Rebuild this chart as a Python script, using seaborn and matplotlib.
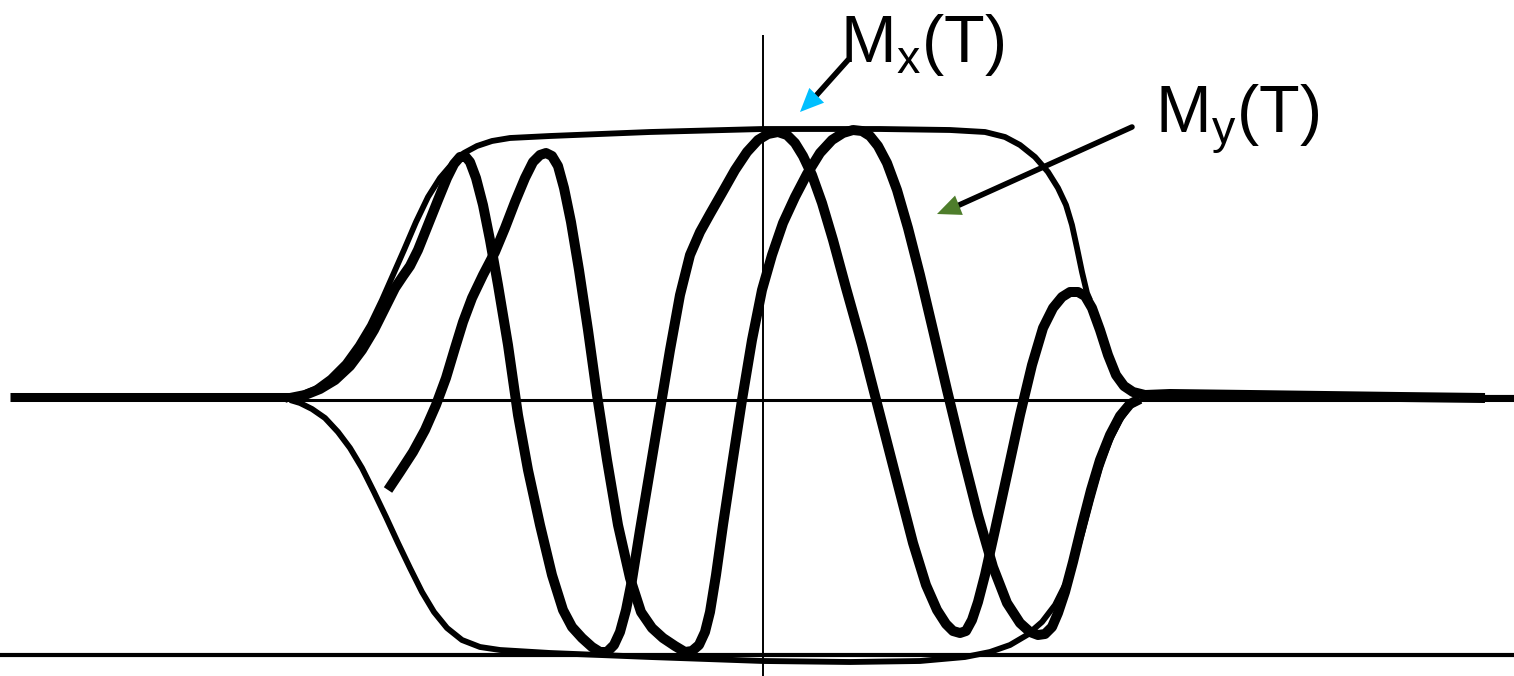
import matplotlib
matplotlib.use("Agg")
import matplotlib.pyplot as plt
import seaborn as sns
import pandas as pd

# Trajectory of the transverse magnetisation during the pulse (pixel-like units,
# y grows downward, baseline at y = 400)
mx_x = [290, 305, 320, 335, 350, 362, 374, 385, 395, 403, 410, 418, 428, 438, 447, 454,
        460, 465, 470, 476, 483, 490, 498, 508, 518, 528, 540, 552, 563, 572, 582, 592,
        600, 607, 614, 620, 626, 632, 640, 650, 660, 670, 680, 690, 700, 710, 722, 735,
        747, 758, 768, 778, 787, 795, 803, 812, 822, 833, 846, 862, 880, 898, 913, 926,
        937, 946, 953, 960, 966, 972, 978, 985, 995, 1007, 1020, 1032, 1043, 1053, 1062,
        1070, 1078, 1085, 1092, 1100, 1108, 1116, 1124, 1133, 1145, 1170, 1250, 1400, 1485]
mx_y = [398, 395, 389, 380, 366, 350, 330, 308, 288, 276, 266, 250, 225, 200, 178, 164,
        157, 156, 162, 178, 205, 240, 285, 345, 415, 470, 525, 575, 610, 627, 638, 647,
        652, 652, 645, 632, 610, 580, 530, 470, 410, 350, 295, 255, 232, 214, 193, 170,
        152, 140, 134, 132, 135, 143, 156, 175, 203, 240, 288, 345, 415, 485, 543, 585,
        610, 624, 631, 633, 631, 620, 602, 575, 530, 475, 415, 365, 328, 308, 297,
        292, 292, 296, 308, 330, 355, 375, 386, 392, 395, 394, 395, 397, 398]

my_x = [388, 400, 413, 425, 436, 446, 455, 463, 472, 483, 495, 505, 515, 525, 533, 540,
        546, 552, 558, 564, 571, 579, 588, 597, 607, 618, 630, 641, 652, 663, 675, 685,
        692, 699, 705, 710, 716, 723, 732, 742, 752, 762, 772, 783, 795, 807, 820, 832,
        843, 853, 862, 870, 878, 887, 897, 908, 920, 933, 947, 962, 978, 993, 1007, 1020,
        1030, 1038, 1045, 1052, 1058, 1065, 1073, 1082, 1091, 1100, 1110, 1120, 1130, 1140]
my_y = [490, 472, 452, 430, 405, 378, 348, 322, 298, 275, 252, 228, 202, 178, 162, 155,
        153, 156, 166, 188, 222, 270, 330, 395, 460, 525, 578, 612, 628, 638, 646, 652,
        651, 645, 632, 612, 575, 525, 465, 400, 340, 290, 255, 223, 197, 174, 153, 140,
        133, 130, 131, 136, 146, 163, 190, 228, 275, 330, 390, 452, 515, 567, 603, 623,
        632, 635, 634, 627, 613, 592, 562, 525, 490, 460, 435, 416, 404, 399]

# Envelope of the magnetisation (upper and lower)
env_top_x = [285, 300, 315, 330, 345, 358, 370, 382, 393, 404, 416, 428, 440, 452, 464,
             477, 492, 510, 550, 650, 763, 880, 950, 985, 1005, 1020, 1035, 1048, 1058,
             1066, 1072, 1077, 1082, 1087, 1090]
env_top_y = [400, 395, 389, 378, 363, 345, 325, 300, 275, 250, 222, 197, 178, 164, 153,
             146, 141, 138, 136, 132, 129, 129, 130, 132, 137, 145, 157, 172, 188,
             205, 225, 248, 272, 293, 300]

env_bot_x = [290, 300, 312, 325, 338, 350, 362, 374, 386, 398, 410, 422, 434, 447, 462,
             480, 500, 550, 650, 763, 850, 920, 965, 990, 1010, 1027, 1042, 1055, 1066,
             1075, 1083, 1091, 1100, 1110, 1120, 1130, 1140]
env_bot_y = [400, 403, 409, 418, 432, 448, 468, 492, 517, 543, 568, 592, 612, 628, 640,
             647, 650, 653, 657, 661, 662, 661, 657, 652, 645, 635, 622, 605, 583,
             558, 530, 500, 468, 440, 420, 406, 400]

# Equilibrium segments before and after the pulse
base_left_x = [10, 290]
base_left_y = [397, 397]
base_right_x = [1485, 1514]
base_right_y = [397, 397]

# Reference axes
haxis_x = [290, 1514]
haxis_y = [400, 400]
vaxis_x = [763, 763]
vaxis_y = [35, 676]
floor_x = [0, 1514]
floor_y = [655, 655]

W, H = 1514, 676
fig = plt.figure(figsize=(W / 100, H / 100), dpi=100)
sns.set_style("white")
plt.rcParams["font.family"] = ["Liberation Sans", "DejaVu Sans"]
plt.rcParams["mathtext.fontset"] = "custom"
plt.rcParams["mathtext.rm"] = "Liberation Sans"
ax = fig.add_axes([0, 0, 1, 1])


def trace(xs, ys, lw, color="black"):
    df = pd.DataFrame({"x": xs, "y": ys})
    sns.lineplot(data=df, x="x", y="y", sort=False, estimator=None, ax=ax,
                 color=color, linewidth=lw, solid_joinstyle="round",
                 solid_capstyle="butt", legend=False)


trace(haxis_x, haxis_y, 2.2)
trace(vaxis_x, vaxis_y, 1.4)
trace(floor_x, floor_y, 3.0)
trace(env_top_x, env_top_y, 4.2)
trace(env_bot_x, env_bot_y, 4.2)
trace(base_left_x, base_left_y, 6.5)
trace(base_right_x, base_right_y, 3.0)
trace(mx_x, mx_y, 7.2)
trace(my_x, my_y, 7.2)

ax.set_xlim(0, W)
ax.set_ylim(H, 0)
ax.axis("off")

# Labels with pointer arrows
ax.text(840, 62, r"M$_\mathregular{x}$(T)", fontsize=48, color="black",
        ha="left", va="baseline")
ax.text(1155, 133, r"M$_\mathregular{y}$(T)", fontsize=48, color="black",
        ha="left", va="baseline")


def pointer(start, base, tip, head_color):
    ax.annotate("", xy=base, xytext=start,
                arrowprops=dict(arrowstyle="-", color="black", lw=4.0,
                                shrinkA=0, shrinkB=0))
    ax.annotate("", xy=tip, xytext=base,
                arrowprops=dict(arrowstyle="-|>,head_length=1.7,head_width=0.75",
                                mutation_scale=10, fc=head_color, ec=head_color,
                                lw=0, shrinkA=0, shrinkB=0))


pointer((848, 60), (814, 98), (800, 112), "#00BFFF")
pointer((1132, 127), (957, 206), (937, 214), "#4E7D2B")

fig.savefig("out.png", dpi=100)
